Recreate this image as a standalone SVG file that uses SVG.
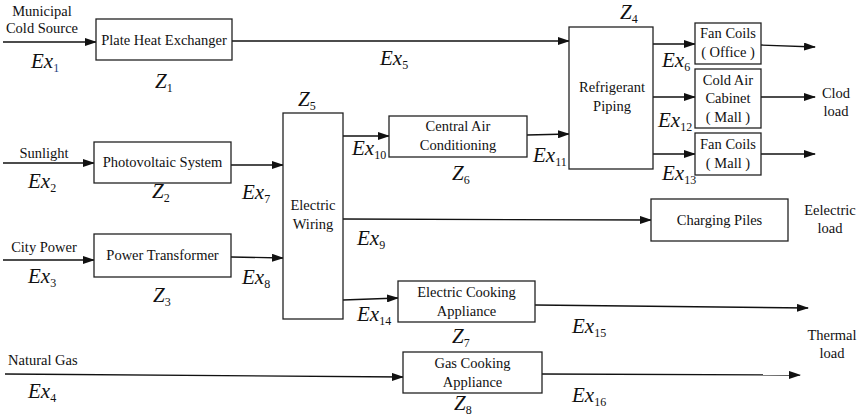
<svg xmlns="http://www.w3.org/2000/svg" width="858" height="418" viewBox="0 0 858 418" font-family="'Liberation Serif', 'Times New Roman', 'DejaVu Serif', serif">
<defs>
<marker id="ah" markerUnits="userSpaceOnUse" markerWidth="12" markerHeight="8" refX="11" refY="4" orient="auto">
<path d="M0,0 L12,4 L0,8 Z" fill="#111"/>
</marker>
<style>
.box{fill:#fff;stroke:#222;stroke-width:1.3}
.lbl{font-family:'Liberation Serif','Times New Roman','DejaVu Serif',serif;font-size:14.5px;fill:#111;text-anchor:middle}
.lbl2{font-family:'Liberation Serif','Times New Roman','DejaVu Serif',serif;font-size:14.5px;fill:#111}
.ex{font-family:'Liberation Serif','Times New Roman','DejaVu Serif',serif;font-size:21px;font-style:italic;fill:#111}
.sub{font-size:12px;font-style:normal}
.con line{stroke:#111;stroke-width:1.3;fill:none;marker-end:url(#ah)}
</style>
</defs>
<rect width="858" height="418" fill="#fff"/>

<g class="con" id="connectors">
<line x1="3" y1="42" x2="96" y2="42"/>
<line x1="232" y1="41" x2="569" y2="41"/>
<line x1="3" y1="163" x2="94" y2="163"/>
<line x1="231" y1="165" x2="283" y2="165"/>
<line x1="3" y1="260" x2="94" y2="260"/>
<line x1="231" y1="257" x2="283" y2="258"/>
<line x1="343" y1="136" x2="389" y2="136"/>
<line x1="527" y1="135" x2="569" y2="134"/>
<line x1="343" y1="219" x2="651" y2="220"/>
<line x1="343" y1="300" x2="398" y2="298"/>
<line x1="535" y1="305" x2="808" y2="308"/>
<line x1="5" y1="374" x2="403" y2="377"/>
<line x1="542" y1="374" x2="800" y2="375"/>
<line x1="653" y1="44" x2="695" y2="44"/>
<line x1="653" y1="97" x2="695" y2="97"/>
<line x1="653" y1="154" x2="695" y2="154"/>
<line x1="761" y1="45" x2="815" y2="47"/>
<line x1="761" y1="97" x2="815" y2="97"/>
<line x1="761" y1="154" x2="815" y2="154"/>
</g>

<g id="n-phe">
<rect class="box" x="96" y="19" width="136" height="41"/>
<text class="lbl" x="164" y="45">Plate Heat Exchanger</text>
</g>
<g id="n-pv">
<rect class="box" x="94" y="142" width="137" height="41"/>
<text class="lbl" x="162.5" y="167">Photovoltaic System</text>
</g>
<g id="n-pt">
<rect class="box" x="94" y="234" width="137" height="43"/>
<text class="lbl" x="162.5" y="260">Power Transformer</text>
</g>
<g id="n-ew">
<rect class="box" x="283" y="113" width="60" height="206"/>
<text class="lbl" x="313" y="210">Electric</text>
<text class="lbl" x="313" y="229">Wiring</text>
</g>
<g id="n-cac">
<rect class="box" x="389" y="116" width="138" height="41"/>
<text class="lbl" x="458" y="131">Central Air</text>
<text class="lbl" x="458" y="150">Conditioning</text>
</g>
<g id="n-rp">
<rect class="box" x="569" y="27" width="84" height="142"/>
<text class="lbl" x="612" y="92">Refrigerant</text>
<text class="lbl" x="612" y="111">Piping</text>
</g>
<g id="n-fco">
<rect class="box" x="695" y="23" width="66" height="41"/>
<text class="lbl" x="728" y="38">Fan Coils</text>
<text class="lbl" x="728" y="57">( Office )</text>
</g>
<g id="n-cab">
<rect class="box" x="695" y="69" width="66" height="59"/>
<text class="lbl" x="728" y="85">Cold Air</text>
<text class="lbl" x="728" y="103">Cabinet</text>
<text class="lbl" x="728" y="122">( Mall )</text>
</g>
<g id="n-fcm">
<rect class="box" x="695" y="133" width="66" height="42"/>
<text class="lbl" x="728" y="149">Fan Coils</text>
<text class="lbl" x="728" y="168">( Mall )</text>
</g>
<g id="n-cp">
<rect class="box" x="651" y="199" width="137" height="42"/>
<text class="lbl" x="719.5" y="225">Charging Piles</text>
</g>
<g id="n-eca">
<rect class="box" x="398" y="281" width="137" height="41"/>
<text class="lbl" x="466.5" y="297">Electric Cooking</text>
<text class="lbl" x="466.5" y="316">Appliance</text>
</g>
<g id="n-gca">
<rect class="box" x="403" y="352" width="139" height="41"/>
<text class="lbl" x="472.5" y="368">Gas Cooking</text>
<text class="lbl" x="472.5" y="387">Appliance</text>
</g>

<g id="labels">
<text class="lbl" x="42" y="16">Municipal</text>
<text class="lbl" x="42" y="33">Cold Source</text>
<text class="lbl" x="44" y="158">Sunlight</text>
<text class="lbl" x="44" y="252">City Power</text>
<text class="lbl2" x="8" y="365">Natural Gas</text>
<text class="lbl" x="836" y="98">Clod</text>
<text class="lbl" x="836" y="116">load</text>
<text class="lbl" x="830" y="215">Eelectric</text>
<text class="lbl" x="830" y="233">load</text>
<text class="lbl" x="832" y="340">Thermal</text>
<text class="lbl" x="832" y="358">load</text>

<text class="ex" x="31" y="68">Ex<tspan class="sub" dy="4" fill="#1f3f80">1</tspan></text>
<text class="ex" x="28" y="188">Ex<tspan class="sub" dy="4">2</tspan></text>
<text class="ex" x="28" y="283">Ex<tspan class="sub" dy="4">3</tspan></text>
<text class="ex" x="28" y="398">Ex<tspan class="sub" dy="4">4</tspan></text>
<text class="ex" x="380" y="65">Ex<tspan class="sub" dy="4">5</tspan></text>
<text class="ex" x="662" y="67">Ex<tspan class="sub" dy="4">6</tspan></text>
<text class="ex" x="242" y="199">Ex<tspan class="sub" dy="4">7</tspan></text>
<text class="ex" x="242" y="284">Ex<tspan class="sub" dy="4">8</tspan></text>
<text class="ex" x="357" y="245">Ex<tspan class="sub" dy="4">9</tspan></text>
<text class="ex" x="352" y="155">Ex<tspan class="sub" dy="4">10</tspan></text>
<text class="ex" x="533" y="162">Ex<tspan class="sub" dy="4">11</tspan></text>
<text class="ex" x="658" y="127">Ex<tspan class="sub" dy="4">12</tspan></text>
<text class="ex" x="662" y="180">Ex<tspan class="sub" dy="4">13</tspan></text>
<text class="ex" x="357" y="321">Ex<tspan class="sub" dy="4">14</tspan></text>
<text class="ex" x="572" y="333">Ex<tspan class="sub" dy="4">15</tspan></text>
<text class="ex" x="572" y="402">Ex<tspan class="sub" dy="4">16</tspan></text>

<text class="ex" x="155" y="88">Z<tspan class="sub" dy="4">1</tspan></text>
<text class="ex" x="152" y="198">Z<tspan class="sub" dy="4">2</tspan></text>
<text class="ex" x="153" y="302">Z<tspan class="sub" dy="4">3</tspan></text>
<text class="ex" x="620" y="19">Z<tspan class="sub" dy="4">4</tspan></text>
<text class="ex" x="298" y="106">Z<tspan class="sub" dy="4">5</tspan></text>
<text class="ex" x="452" y="180">Z<tspan class="sub" dy="4">6</tspan></text>
<text class="ex" x="452" y="343">Z<tspan class="sub" dy="4">7</tspan></text>
<text class="ex" x="454" y="410">Z<tspan class="sub" dy="4">8</tspan></text>
</g>
</svg>
